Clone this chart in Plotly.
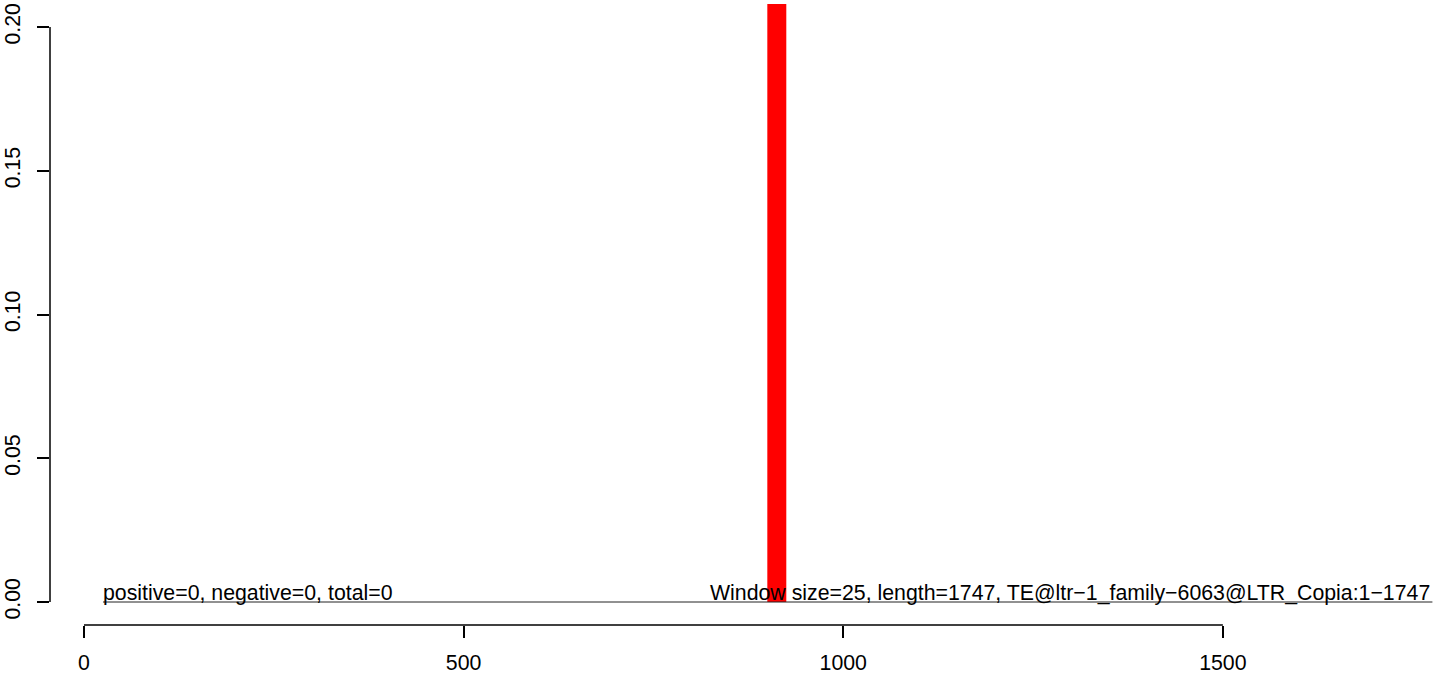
import plotly.graph_objects as go

# Data
bar_x = [912.5]          # window centre (window 900-925)
bar_width = [25]
bar_y = [0.25]           # bar extends beyond the visible top
baseline_x = [25, 1776]
baseline_y = [0, 0]
x_ticks = [0, 500, 1000, 1500]
y_ticks = [0.00, 0.05, 0.10, 0.15, 0.20]
y_tick_labels = ["0.00", "0.05", "0.10", "0.15", "0.20"]
left_text = "positive=0, negative=0, total=0"
right_text = "Window size=25, length=1747, TE@ltr\u22121_family\u22126063@LTR_Copia:1\u22121747"

FONT = "Liberation Sans, Arial, Helvetica, sans-serif"
FS = 21.3

fig = go.Figure()
fig.add_trace(go.Scatter(x=baseline_x, y=baseline_y, mode="lines",
                         line=dict(color="#222222", width=1), hoverinfo="skip"))
fig.add_trace(go.Bar(x=bar_x, y=bar_y, width=bar_width,
                     marker=dict(color="#FF0000", line=dict(width=0))))

fig.add_annotation(x=baseline_x[0], y=0, text=left_text, showarrow=False,
                   xanchor="left", yanchor="bottom", yshift=-5, xshift=-2,
                   font=dict(family=FONT, size=FS, color="black"))
fig.add_annotation(x=baseline_x[1], y=0, text=right_text, showarrow=False,
                   xanchor="right", yanchor="bottom", yshift=-5,
                   font=dict(family=FONT, size=FS, color="black"))

# axis lines spanning only the tick range (R style)
fig.add_shape(type="line", xref="x", yref="paper", x0=x_ticks[0], x1=x_ticks[-1],
              y0=0, y1=0, line=dict(color="black", width=1.5))
fig.add_shape(type="line", xref="paper", yref="y", x0=0, x1=0,
              y0=y_ticks[0], y1=y_ticks[-1], line=dict(color="black", width=1.5))

fig.update_layout(
    width=1444, height=676,
    margin=dict(l=50, r=4, t=4, b=51, pad=0),
    paper_bgcolor="white", plot_bgcolor="white",
    showlegend=False,
    font=dict(family=FONT, size=FS, color="black"),
    xaxis=dict(range=[-44.8, 1786], tickvals=x_ticks, ticktext=[str(v) for v in x_ticks],
               ticks="outside", ticklen=12, tickwidth=1.5, tickcolor="black",
               showgrid=False, zeroline=False, showline=False, automargin=False,
               ticklabelstandoff=6,
               tickfont=dict(family=FONT, size=FS, color="black")),
    yaxis=dict(range=[-0.008, 0.208], tickvals=y_ticks, ticktext=y_tick_labels,
               ticks="outside", ticklen=12, tickwidth=1.5, tickcolor="black",
               tickangle=-90, showgrid=False, zeroline=False, showline=False,
               automargin=False, ticklabelstandoff=8,
               tickfont=dict(family=FONT, size=FS, color="black")),
)

fig.write_html("out.html", config={"displayModeBar": False},
               post_script="document.body.style.margin='0px';document.body.style.overflow='hidden';")
